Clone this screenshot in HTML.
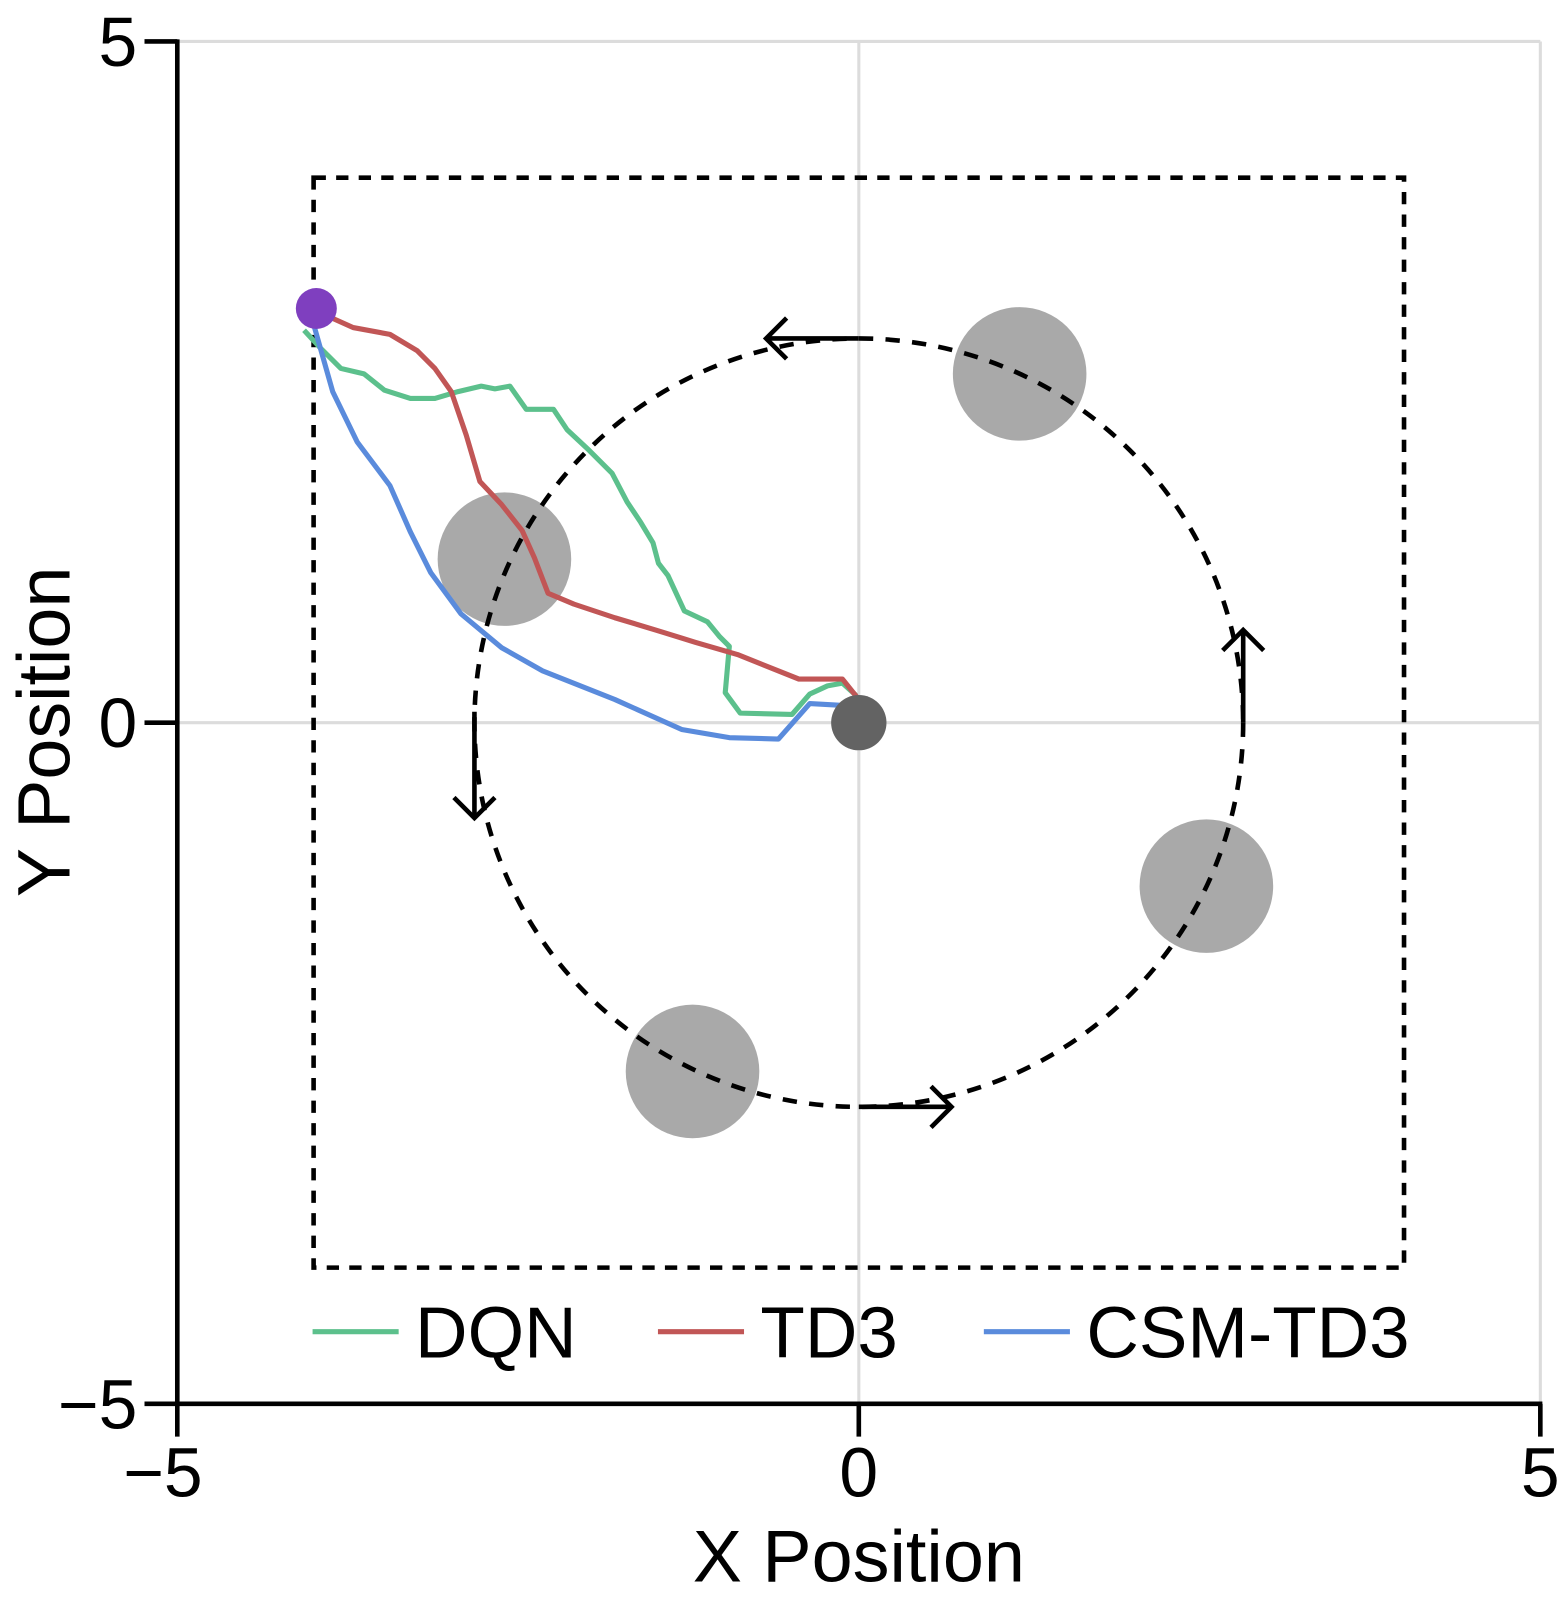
<!DOCTYPE html>
<html><head><meta charset="utf-8"><style>
html,body{margin:0;padding:0;background:#fff;}
svg{display:block;}
text{font-family:"Liberation Sans",Arial,sans-serif;fill:#000;}
</style></head><body>
<svg id="chart" width="1568" height="1605" viewBox="0 0 1530 1568" preserveAspectRatio="none" xmlns="http://www.w3.org/2000/svg">
<g id="grid"></g>
<g id="bounds"></g>
<g id="obs"></g>
<g id="orbit"></g>
<g id="traj"></g>
<g id="pts"></g>
<g id="axes"></g>
<g id="legend"></g>
</svg>
<script>
const xTicks = [-5, 0, 5];
const yTicks = [-5, 0, 5];
const tickLabels = ["\u22125", "0", "5"];
const dqnX = [-4.07,-3.95,-3.80,-3.63,-3.48,-3.29,-3.11,-2.94,-2.77,-2.67,-2.56,-2.44,-2.24,-2.14,-1.98,-1.81,-1.70,-1.60,-1.51,-1.47,-1.40,-1.28,-1.11,-1.02,-0.95,-0.98,-0.87,-0.49,-0.36,-0.23,-0.12,-0.02];
const dqnY = [2.88,2.75,2.60,2.56,2.44,2.38,2.38,2.43,2.47,2.45,2.47,2.30,2.30,2.15,2.00,1.83,1.62,1.47,1.32,1.17,1.08,0.82,0.74,0.63,0.56,0.22,0.07,0.06,0.21,0.27,0.29,0.20];
const td3X = [-3.91,-3.71,-3.44,-3.24,-3.11,-2.99,-2.88,-2.78,-2.62,-2.47,-2.38,-2.28,-2.09,-1.79,-1.49,-1.20,-0.89,-0.44,-0.12,0];
const td3Y = [2.99,2.90,2.85,2.73,2.60,2.43,2.11,1.77,1.60,1.41,1.21,0.95,0.87,0.77,0.68,0.59,0.50,0.32,0.32,0.17];
const csmX = [-4.01,-3.86,-3.68,-3.44,-3.29,-3.14,-2.92,-2.62,-2.32,-1.79,-1.30,-0.95,-0.59,-0.36,0];
const csmY = [2.96,2.43,2.06,1.74,1.40,1.10,0.80,0.55,0.38,0.17,-0.05,-0.11,-0.12,0.14,0.12];
const obstacleX = [1.18, -2.6, 2.55, -1.22];
const obstacleY = [2.56, 1.2, -1.2, -2.56];
const obstacleR = 0.49;
const orbitR = 2.82;
const boundHalf = 4;
const startPt = [-3.98, 3.04];
const goalPt = [0, 0];
const seriesNames = ["DQN", "TD3", "CSM-TD3"];

const NS = "http://www.w3.org/2000/svg";
const X0 = 838, Y0 = 706, SX = 133, SY = 133.1;
const sx = v => X0 + v * SX;
const sy = v => Y0 - v * SY;
function mk(tag, attrs, parent) {
  const e = document.createElementNS(NS, tag);
  for (const k in attrs) e.setAttribute(k, attrs[k]);
  parent.appendChild(e);
  return e;
}
const G = id => document.getElementById(id);

[0, 5].forEach(v => {
  const l = mk('line', {x1: sx(v), x2: sx(v), y1: sy(5), y2: sy(-5), stroke: '#dcdcdc', 'stroke-width': 3}, G('grid'));
  
  
  const h = mk('line', {x1: sx(-5), x2: sx(5), y1: sy(v), y2: sy(v), stroke: '#dcdcdc', 'stroke-width': 3}, G('grid'));
  
  
});

const b = mk('rect', {x: sx(-boundHalf), y: sy(boundHalf), width: sx(boundHalf) - sx(-boundHalf), height: sy(-boundHalf) - sy(boundHalf), fill: 'none', stroke: '#000', 'stroke-width': 4.5, 'stroke-dasharray': '12 10'}, G('bounds'));



obstacleX.forEach((ox, i) => {
  const c = mk('ellipse', {cx: sx(ox), cy: sy(obstacleY[i]), rx: obstacleR * SX, ry: obstacleR * SY, fill: '#a9a9a9'}, G('obs'));
  
  
});

const oc = mk('ellipse', {cx: sx(0), cy: sy(0), rx: orbitR * SX, ry: orbitR * SY, fill: 'none', stroke: '#000', 'stroke-width': 4.5, 'stroke-dasharray': '14 12'}, G('orbit'));


const R = orbitR;
const arrows = [
  [[0, R], [-0.68, R]],
  [[-R, 0.08], [-R, -0.7]],
  [[0, -R], [0.68, -R]],
  [[R, 0], [R, 0.68]]
];
arrows.forEach(a => {
  const [p, q] = a;
  const x1 = sx(p[0]), y1 = sy(p[1]), x2 = sx(q[0]), y2 = sy(q[1]);
  const ln = mk('line', {x1, y1, x2, y2, stroke: '#000', 'stroke-width': 4.5}, G('orbit'));
  
  
  const dx = x2 - x1, dy = y2 - y1, L = Math.hypot(dx, dy), ux = dx / L, uy = dy / L;
  const s = 20;
  const pts = `${x2 - ux * s - uy * s},${y2 - uy * s + ux * s} ${x2},${y2} ${x2 - ux * s + uy * s},${y2 - uy * s - ux * s}`;
  const h = mk('polyline', {points: pts, fill: 'none', stroke: '#000', 'stroke-width': 4.5}, G('orbit'));
  
  
});

const colors = ['#5cc08c', '#c15656', '#5a8bdc'];
[[dqnX, dqnY], [td3X, td3Y], [csmX, csmY]].forEach((s, i) => {
  const pts = s[0].map((x, j) => sx(x) + ',' + sy(s[1][j])).join(' ');
  const pl = mk('polyline', {points: pts, fill: 'none', stroke: colors[i], 'stroke-width': 5, 'stroke-linejoin': 'round'}, G('traj'));
  
  
});

const sp = mk('ellipse', {cx: sx(startPt[0]), cy: sy(startPt[1]), rx: 20, ry: 20, fill: '#7f3fbf'}, G('pts'));


const gp = mk('ellipse', {cx: sx(goalPt[0]), cy: sy(goalPt[1]), rx: 27, ry: 27, fill: '#636363'}, G('pts'));



const ax = G('axes');
const ys = mk('line', {x1: sx(-5), x2: sx(-5), y1: sy(5) - 2, y2: sy(-5) + 2, stroke: '#000', 'stroke-width': 4.5}, ax);


const xs = mk('line', {x1: sx(-5) - 2, x2: sx(5) + 2, y1: sy(-5), y2: sy(-5), stroke: '#000', 'stroke-width': 4.5}, ax);


xTicks.forEach((v, i) => {
  const t = mk('line', {x1: sx(v), x2: sx(v), y1: sy(-5), y2: sy(-5) + 32, stroke: '#000', 'stroke-width': 4.5}, ax);
  
  
  const tx = mk('text', {x: sx(v) + (v < 0 ? -14 : 0), y: 1462, 'font-size': 68, 'text-anchor': 'middle'}, ax);
  tx.textContent = tickLabels[i];
  
  
});
yTicks.forEach((v, i) => {
  const t = mk('line', {x1: sx(-5) - 32, x2: sx(-5), y1: sy(v), y2: sy(v), stroke: '#000', 'stroke-width': 4.5}, ax);
  
  
  const tx = mk('text', {x: 134, y: sy(v) + 24, 'font-size': 68, 'text-anchor': 'end'}, ax);
  tx.textContent = tickLabels[i];
  
  
});
const xt = mk('text', {x: 838, y: 1545, 'font-size': 72, 'text-anchor': 'middle'}, ax);
xt.textContent = 'X Position';


const yt = mk('text', {x: 0, y: 0, 'font-size': 72, 'text-anchor': 'middle', transform: 'translate(68,715) rotate(-90)'}, ax);
yt.textContent = 'Y Position';



const lx = [305, 642, 960];
seriesNames.forEach((n, i) => {
  const g = mk('g', {}, G('legend'));
  
  
  const l = mk('line', {x1: lx[i], x2: lx[i] + 84, y1: 1301, y2: 1301, stroke: colors[i], 'stroke-width': 5}, g);
  
  
  const t = mk('text', {x: lx[i] + 100, y: 1326, 'font-size': 71}, g);
  t.textContent = n;
  
  
});
</script>
</body></html>
